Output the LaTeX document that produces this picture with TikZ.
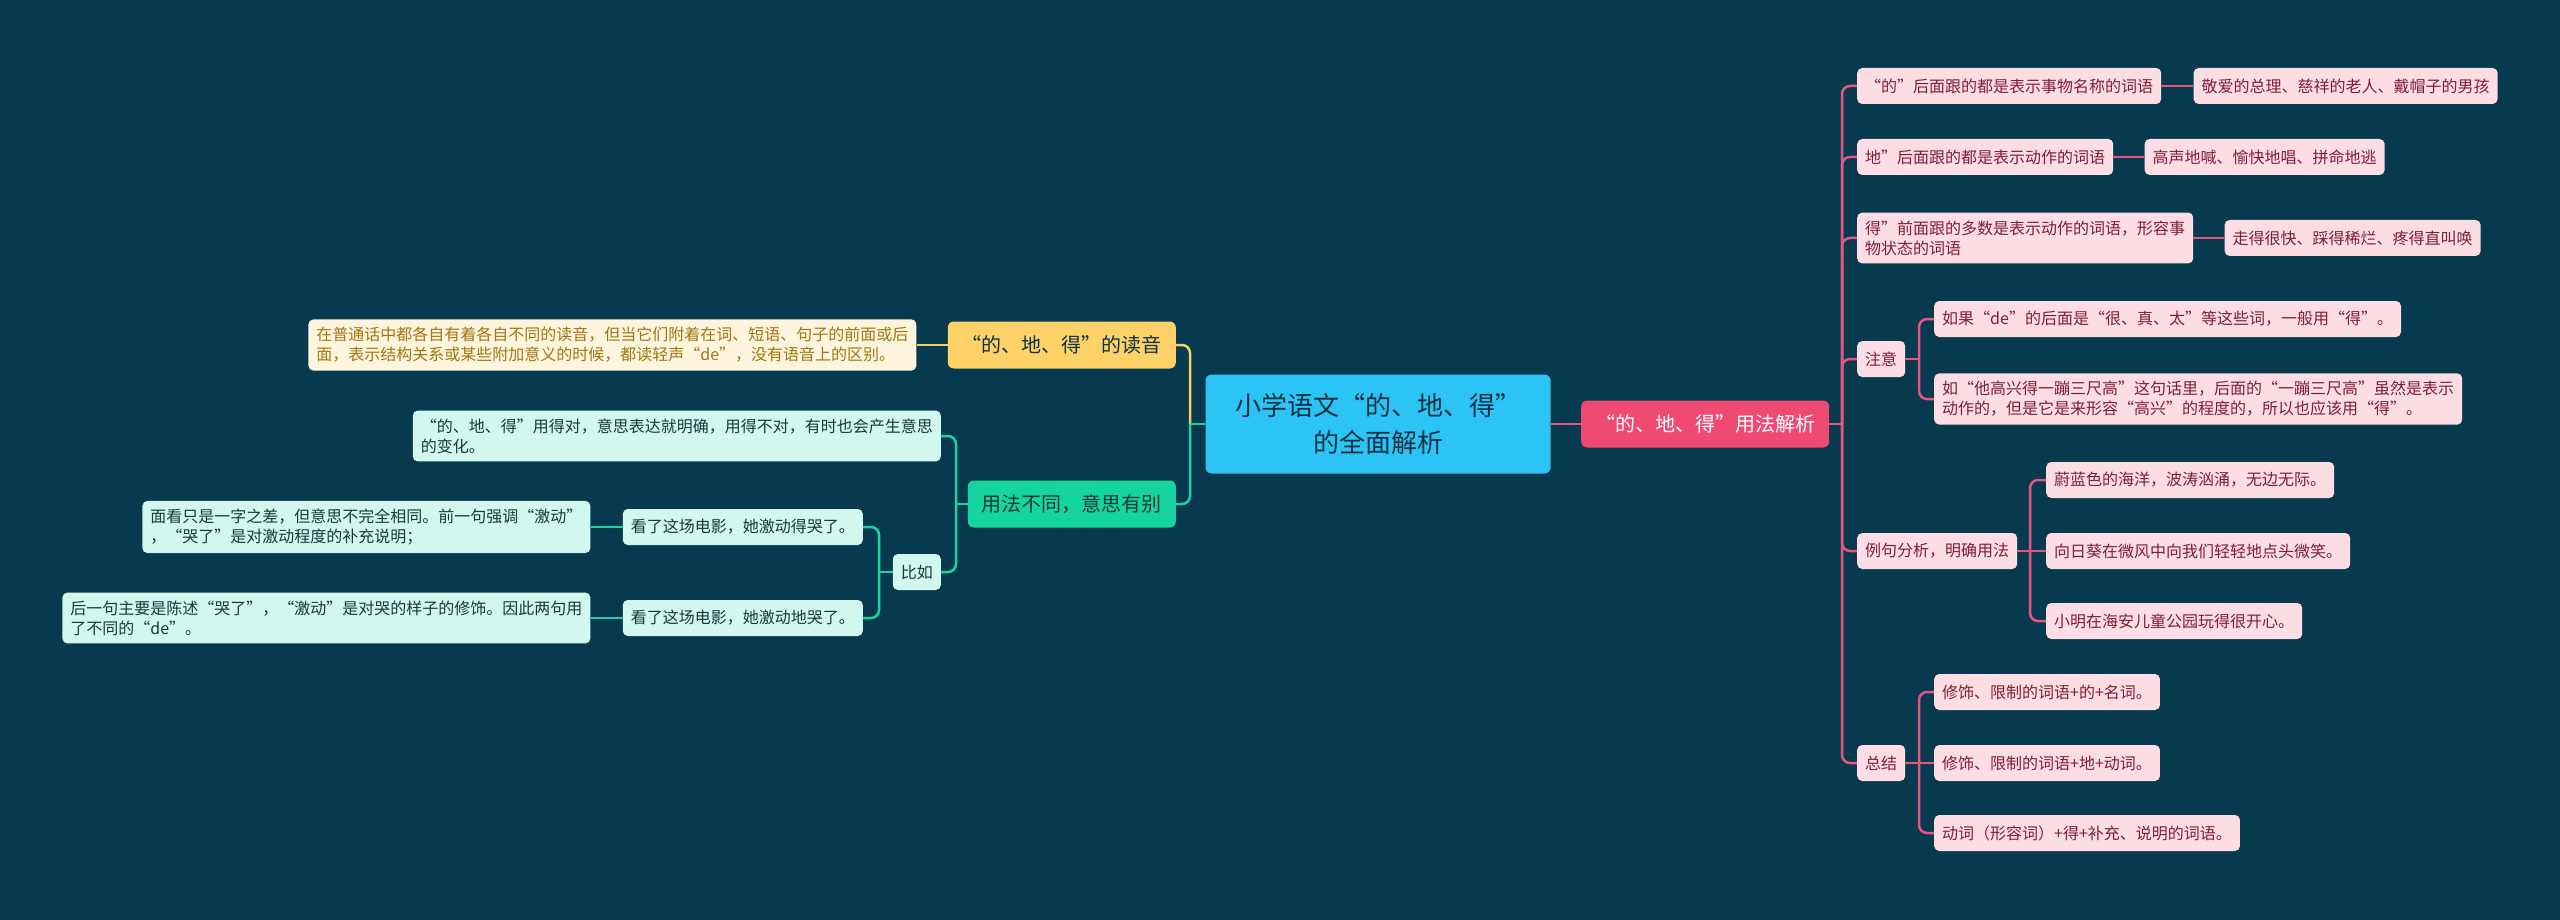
\documentclass[tikz,border=0pt]{standalone}
\usepackage{fontspec}
\setmainfont{Noto Sans CJK SC}
\usepackage{xcolor}
\usetikzlibrary{positioning}
\definecolor{bgnavy}{HTML}{073A4F}
\definecolor{rootblue}{HTML}{2CC4F4}
\definecolor{rootink}{HTML}{0F3045}
\definecolor{mainpink}{HTML}{EF4A73}
\definecolor{leafpink}{HTML}{FDDDE4}
\definecolor{inkpink}{HTML}{7D1D3A}
\definecolor{linepink}{HTML}{E5557E}
\definecolor{mainyel}{HTML}{FED266}
\definecolor{leafyel}{HTML}{FFF5DE}
\definecolor{inkyel}{HTML}{A0760E}
\definecolor{lineyel}{HTML}{F8CF5E}
\definecolor{maingrn}{HTML}{16D49E}
\definecolor{leafgrn}{HTML}{D2F7EE}
\definecolor{inkgrn}{HTML}{17393A}
\definecolor{linegrn}{HTML}{1CD3A3}

\begin{document}
\begin{tikzpicture}[x=1pt, y=-1pt,
    rootbox/.style={fill=rootblue, text=rootink, rounded corners=6pt, align=center, minimum width=345pt, minimum height=99pt, font=\fontsize{26}{37}\selectfont},
    topic/.style={rounded corners=6pt, inner xsep=14pt, minimum height=47pt, font=\fontsize{20}{24}\selectfont},
    pinktopic/.style={topic, fill=mainpink, text=white},
    yeltopic/.style={topic, fill=mainyel, text=rootink},
    grntopic/.style={topic, fill=maingrn, text=inkgrn},
    leaf/.style={rounded corners=5pt, inner xsep=8pt, inner ysep=8pt, minimum height=36pt, align=left, font=\fontsize{16}{20}\selectfont},
    pinkleaf/.style={leaf, fill=leafpink, text=inkpink},
    yelleaf/.style={leaf, fill=leafyel, text=inkyel},
    grnleaf/.style={leaf, fill=leafgrn, text=inkgrn},
    pline/.style={draw=linepink, line width=2.5pt, rounded corners=8pt},
    yline/.style={draw=lineyel, line width=2.5pt, rounded corners=8pt},
    gline/.style={draw=linegrn, line width=2.5pt, rounded corners=8pt}
]
\fill[bgnavy] (0,0) rectangle (2560,920);
\useasboundingbox (0,0) rectangle (2560,920);

\node[rootbox] (root) at (1378,424) {小学语文“的、地、得”\\的全面解析};

\node[pinktopic, anchor=west, minimum width=246pt] (usage) at (1581,424) {“的、地、得”用法解析};
\node[pinkleaf, anchor=west] (de) at (1857,86) {“的”后面跟的都是表示事物名称的词语};
\node[pinkleaf, right=32pt of de] (deex) {敬爱的总理、慈祥的老人、戴帽子的男孩};
\node[pinkleaf, anchor=west] (di) at (1857,157) {地”后面跟的都是表示动作的词语};
\node[pinkleaf, right=31pt of di] (diex) {高声地喊、愉快地唱、拼命地逃};
\node[pinkleaf, anchor=west] (dei) at (1857,238) {得”前面跟的多数是表示动作的词语，形容事\\物状态的词语};
\node[pinkleaf, right=31pt of dei] (deiex) {走得很快、踩得稀烂、疼得直叫唤};
\node[pinkleaf, anchor=west] (note) at (1857,359) {注意};
\node[pinkleaf, anchor=west] (note1) at (1934,319) {如果“de”的后面是“很、真、太”等这些词，一般用“得”。};
\node[pinkleaf, anchor=west] (note2) at (1934,399) {如“他高兴得一蹦三尺高”这句话里，后面的“一蹦三尺高”虽然是表示\\动作的，但是它是来形容“高兴”的程度的，所以也应该用“得”。};
\node[pinkleaf, anchor=west] (case) at (1857,551) {例句分析，明确用法};
\node[pinkleaf, anchor=west] (case1) at (2046,480) {蔚蓝色的海洋，波涛汹涌，无边无际。};
\node[pinkleaf, anchor=west] (case2) at (2046,551) {向日葵在微风中向我们轻轻地点头微笑。};
\node[pinkleaf, anchor=west] (case3) at (2046,621) {小明在海安儿童公园玩得很开心。};
\node[pinkleaf, anchor=west] (sum) at (1857,763) {总结};
\node[pinkleaf, anchor=west] (sum1) at (1934,692) {修饰、限制的词语+的+名词。};
\node[pinkleaf, anchor=west] (sum2) at (1934,763) {修饰、限制的词语+地+动词。};
\node[pinkleaf, anchor=west] (sum3) at (1934,833) {动词（形容词）+得+补充、说明的词语。};

\node[yeltopic, anchor=east, minimum width=225pt] (sound) at (1176,345) {“的、地、得”的读音};
\node[yelleaf, left=31pt of sound] (soundtxt) {在普通话中都各自有着各自不同的读音，但当它们附着在词、短语、句子的前面或后\\面，表示结构关系或某些附加意义的时候，都读轻声“de”，没有语音上的区别。};
\node[grntopic, anchor=east, minimum width=204pt] (diff) at (1176,504) {用法不同，意思有别};
\node[grnleaf, anchor=east] (difftxt) at (941,436) {“的、地、得”用得对，意思表达就明确，用得不对，有时也会产生意思\\的变化。};
\node[grnleaf, anchor=east] (eg) at (941,572) {比如};
\node[grnleaf, anchor=east] (egde) at (863,527) {看了这场电影，她激动得哭了。};
\node[grnleaf, left=32pt of egde] (egdetxt) {面看只是一字之差，但意思不完全相同。前一句强调“激动”\\，“哭了”是对激动程度的补充说明；};
\node[grnleaf, anchor=east] (egdi) at (863,618) {看了这场电影，她激动地哭了。};
\node[grnleaf, left=32pt of egdi] (egditxt) {后一句主要是陈述“哭了”，“激动”是对哭的样子的修饰。因此两句用\\了不同的“de”。};

\coordinate (rj) at (1842,424);
\coordinate (notej) at (1919,359);
\coordinate (casej) at (2030,551);
\coordinate (sumj) at (1919,763);
\coordinate (lj) at (1190,424);
\coordinate (diffj) at (956,504);
\coordinate (egj) at (879,572);

\draw[pline] (root) -- (usage);
\draw[pline] (usage) -- (rj);
\draw[pline] (rj) |- (de.west);
\draw[pline] (rj) |- (di.west);
\draw[pline] (rj) |- (dei.west);
\draw[pline] (rj) |- (note.west);
\draw[pline] (rj) |- (case.west);
\draw[pline] (rj) |- (sum.west);
\draw[pline] (de) -- (deex);
\draw[pline] (di) -- (diex);
\draw[pline] (dei) -- (deiex);
\draw[pline] (note) -- (notej);
\draw[pline] (notej) |- (note1.west);
\draw[pline] (notej) |- (note2.west);
\draw[pline] (case) -- (case2);
\draw[pline] (casej) |- (case1.west);
\draw[pline] (casej) |- (case3.west);
\draw[pline] (sum) -- (sum2);
\draw[pline] (sumj) |- (sum1.west);
\draw[pline] (sumj) |- (sum3.west);

\draw[yline] (lj) |- (sound.east);
\draw[yline] (sound) -- (soundtxt);
\draw[gline] (lj) |- (diff.east);
\draw[gline] (root) -- (lj);
\draw[gline] (diff) -- (diffj);
\draw[gline] (diffj) |- (difftxt.east);
\draw[gline] (diffj) |- (eg.east);
\draw[gline] (eg) -- (egj);
\draw[gline] (egj) |- (egde.east);
\draw[gline] (egj) |- (egdi.east);
\draw[gline] (egde) -- (egdetxt);
\draw[gline] (egdi) -- (egditxt);
\end{tikzpicture}
\end{document}
